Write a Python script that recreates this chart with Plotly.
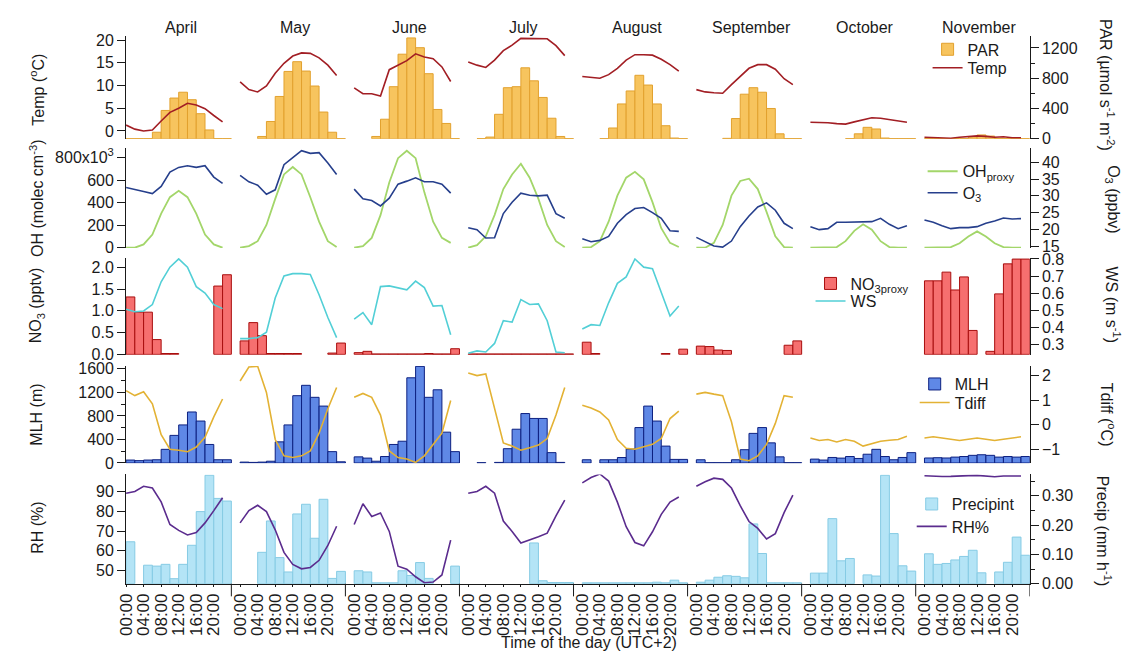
import plotly.graph_objects as go

# ---------------- data ----------------
MONTHS = ["April", "May", "June", "July", "August", "September", "October", "November"]
HOURS = [0, 2, 4, 6, 8, 10, 12, 14, 16, 18, 20, 22]
TICK_HOURS = [0, 4, 8, 12, 16, 20]
TICK_LABELS = ["00:00", "04:00", "08:00", "12:00", "16:00", "20:00"]

# Temperature (deg C), one list per month
temp = [
    [1.3, 0.4, 0.0, 0.2, 2.2, 4.1, 5.0, 6.1, 5.7, 4.9, 3.4, 2.0],
    [10.8, 9.1, 8.6, 9.9, 12.7, 14.9, 16.5, 17.2, 17.1, 16.1, 14.5, 12.2],
    [9.5, 8.2, 8.2, 7.7, 13.5, 14.5, 15.5, 17.0, 16.3, 15.9, 14.1, 10.9],
    [15.2, 14.5, 14.0, 15.6, 17.7, 18.9, 20.4, 20.4, 20.3, 20.3, 18.8, 16.6],
    [12.0, 11.8, 11.6, 12.4, 13.8, 15.6, 16.8, 16.8, 16.7, 15.8, 14.6, 13.2],
    [9.1, 8.6, 8.4, 8.3, 10.2, 12.0, 13.8, 14.6, 14.6, 13.6, 11.5, 10.2],
    [1.9, 1.9, 1.8, 1.6, 1.5, 2.0, 2.5, 2.9, 2.8, 2.5, 2.2, 1.9],
    [-1.4, -1.5, -1.5, -1.6, -1.4, -1.2, -1.1, -1.2, -1.4, -1.3, -1.5, -1.5],
]
# PAR (umol s-1 m-2)
par = [
    [2, 2, 2, 86, 374, 538, 615, 516, 331, 116, 2, 2],
    [None, None, 30, 228, 559, 890, 1019, 895, 697, 353, 86, 2],
    [None, None, 30, 258, 688, 1118, 1333, 1204, 860, 387, 202, 2],
    [None, 2, 22, 323, 675, 688, 938, 766, 546, 271, 30, 2],
    [None, None, 2, 142, 460, 632, 839, 710, 460, 172, 9, 2],
    [None, None, None, 5, 267, 589, 675, 615, 400, 65, 2, 2],
    [None, None, None, None, 2, 65, 151, 129, 9, 2, 2, 2],
    [2, 2, 2, 2, 2, 25, 50, 35, 5, 2, 2, 2],
]
# OH proxy (x10^3 molec cm-3)
oh = [
    [0, 0, 29, 116, 303, 448, 505, 448, 303, 116, 29, 0],
    [0, 14, 58, 202, 433, 650, 716, 650, 448, 231, 58, 6],
    [0, 14, 87, 289, 578, 794, 860, 794, 491, 231, 87, 43],
    [0, 23, 101, 289, 520, 650, 745, 621, 433, 202, 58, 6],
    [0, 6, 58, 231, 462, 621, 673, 606, 404, 173, 43, 6],
    [0, 0, 43, 202, 462, 592, 612, 520, 318, 101, 6, 0],
    [0, 0, 0, 6, 58, 150, 208, 159, 58, 6, 0, 0],
    [0, 0, 0, 5, 40, 100, 145, 100, 40, 5, 0, 0],
]
# O3 (ppbv)
o3 = [
    [32.5, 31.8, 31.3, 30.7, 32.8, 37.1, 38.5, 39.0, 38.5, 39.0, 35.6, 33.7],
    [36.1, 34.2, 33.2, 30.5, 31.8, 39.3, 41.4, 43.5, 42.7, 42.9, 39.8, 36.4],
    [32.0, 29.1, 28.6, 27.0, 29.3, 33.5, 34.4, 35.4, 34.2, 34.2, 33.5, 30.8],
    [20.5, 19.9, 17.4, 17.5, 24.7, 28.1, 30.8, 30.2, 30.0, 30.2, 24.7, 23.3],
    [17.2, 16.3, 16.7, 17.9, 21.8, 24.4, 26.2, 26.5, 25.0, 23.3, 19.6, 19.4],
    [17.6, 16.3, 15.0, 14.7, 16.5, 20.8, 24.0, 26.7, 27.9, 25.7, 21.8, 20.2],
    [20.8, 19.9, 20.2, 22.1, 22.1, 22.1, 22.1, 22.3, 23.3, 21.5, 20.2, 21.1],
    [22.8, 22.1, 21.1, 20.2, 20.5, 20.5, 20.8, 21.8, 22.5, 23.4, 23.1, 23.2],
]
# NO3 proxy (pptv)
no3 = [
    [1.32, 0.97, 0.97, 0.34, 0.02, 0.02, None, None, None, None, 1.57, 1.83],
    [0.31, 0.73, 0.43, 0.02, 0.02, 0.02, 0.02, None, None, None, 0.03, 0.26],
    [0.04, 0.07, 0.01, 0.01, 0.01, 0.01, 0.01, 0.01, 0.02, 0.01, 0.01, 0.13],
    [0.01, 0.01, 0.01, 0.01, 0.01, 0.01, 0.01, 0.01, 0.01, 0.01, 0.01, 0.01],
    [0.28, 0.02, None, None, None, None, None, None, None, 0.02, None, 0.12],
    [0.19, 0.18, 0.10, 0.09, None, None, None, None, None, None, 0.21, 0.31],
    [None, None, None, None, None, None, None, None, None, None, None, None],
    [1.69, 1.69, 1.89, 1.48, 1.78, 0.55, None, 0.07, 1.39, 2.08, 2.19, 2.19],
]
# Wind speed (m s-1)
ws = [
    [0.505, 0.491, 0.495, 0.533, 0.666, 0.752, 0.800, 0.752, 0.638, 0.600, 0.533, 0.509],
    [0.333, 0.333, 0.339, 0.371, 0.571, 0.701, 0.714, 0.714, 0.709, 0.590, 0.457, 0.339],
    [0.447, 0.486, 0.415, 0.638, 0.642, 0.632, 0.619, 0.670, 0.632, 0.524, 0.527, 0.356],
    [0.247, 0.261, 0.255, 0.305, 0.438, 0.430, 0.562, 0.533, 0.537, 0.438, 0.255, 0.250],
    [0.390, 0.415, 0.410, 0.543, 0.657, 0.695, 0.800, 0.752, 0.743, 0.609, 0.466, 0.524],
    None,
    None,
    None,
]
# Mixing layer height (m)
mlh = [
    [50, 40, 50, 55, 232, 469, 647, 867, 713, 315, 55, 55],
    [15, 10, 15, 30, 359, 647, 1144, 1320, 1116, 967, 193, 20],
    [104, 83, 30, 110, 315, 370, 1448, 1642, 1116, 1244, 524, 193],
    [None, 5, None, 10, 243, 574, 840, 757, 757, 176, 10, None],
    [55, None, 55, 55, 93, 237, 602, 967, 713, 287, 61, 61],
    [55, 5, 5, 5, 55, 226, 503, 602, 342, 104, 5, 5],
    [66, 50, 94, 83, 110, 77, 149, 232, 110, 55, 94, 176],
    [85, 90, 85, 100, 110, 130, 140, 130, 100, 110, 100, 110],
]
# Temperature difference (deg C)
tdiff = [
    [1.39, 1.19, 1.35, 0.85, -0.41, -1.01, -1.05, -1.11, -0.92, -0.52, 0.32, 1.05],
    [1.79, 2.36, 2.39, 1.32, -0.61, -1.28, -1.35, -1.28, -1.08, -0.35, 0.65, 1.52],
    [1.12, 1.28, 1.12, 0.39, -1.08, -1.35, -1.41, -1.55, -1.28, -0.81, -0.35, 0.99],
    [2.12, 2.01, 2.08, 0.65, -0.75, -0.88, -1.05, -0.95, -0.84, -0.57, 0.39, 1.52],
    [0.79, 0.68, 0.52, 0.19, -0.61, -0.97, -1.01, -0.92, -0.81, -0.57, 0.25, 0.55],
    [1.25, 1.32, 1.25, 1.19, 0.12, -1.41, -1.48, -1.28, -0.81, 0.05, 1.19, 1.12],
    [-0.55, -0.65, -0.61, -0.71, -0.61, -0.68, -0.88, -0.79, -0.68, -0.64, -0.61, -0.48],
    [-0.55, -0.50, -0.55, -0.60, -0.65, -0.60, -0.55, -0.60, -0.65, -0.60, -0.55, -0.50],
]
# Relative humidity (%)
rh = [
    [89.1, 90.0, 92.6, 91.7, 84.7, 73.3, 70.3, 68.0, 69.2, 74.1, 80.3, 86.8],
    [74.1, 80.3, 83.0, 79.8, 70.6, 59.2, 53.1, 50.9, 51.6, 55.2, 62.7, 72.4],
    [73.3, 83.8, 77.3, 79.1, 69.8, 52.2, 50.7, 46.9, 43.9, 44.2, 47.8, 65.4],
    [89.1, 90.0, 92.6, 89.1, 75.0, 69.8, 63.9, 65.4, 67.1, 68.9, 77.7, 85.6],
    [94.3, 97.0, 98.8, 95.2, 84.6, 72.2, 64.2, 62.5, 69.6, 78.4, 84.6, 87.2],
    [92.6, 94.9, 96.7, 96.1, 91.7, 82.8, 74.8, 71.3, 66.0, 68.7, 79.3, 88.1],
    None,
    [97.9, 97.6, 97.5, 97.6, 97.9, 98.0, 98.1, 97.7, 97.4, 97.8, 97.9, 97.8],
]
# Precipitation intensity (mm h-1)
precip = [
    [0.143, None, 0.063, 0.060, 0.066, 0.017, 0.066, 0.131, 0.246, 0.370, 0.291, 0.282],
    [None, None, 0.107, 0.214, 0.089, 0.040, 0.238, 0.271, 0.155, 0.288, 0.018, 0.042],
    [0.044, 0.040, 0.003, 0.003, 0.003, 0.044, 0.028, 0.072, 0.018, None, None, 0.060],
    [None, None, None, None, None, None, None, 0.139, 0.010, 0.004, 0.004, 0.004],
    [0.003, 0.003, 0.003, 0.003, 0.003, 0.003, 0.003, 0.003, 0.005, 0.003, 0.012, 0.003],
    [0.005, 0.012, 0.022, 0.027, 0.025, 0.020, 0.204, 0.103, 0.003, 0.003, 0.003, 0.003],
    [0.036, 0.036, 0.222, 0.078, 0.086, None, 0.030, 0.026, 0.370, 0.171, 0.061, 0.043],
    [0.102, 0.066, 0.069, 0.081, 0.093, 0.114, 0.037, None, 0.040, 0.073, 0.159, 0.097],
]

# ---------------- layout geometry ----------------
W, H = 1124, 660
PLOT_L, PLOT_R = 118, 1029
MONTH_SPAN = 24
MONTH_PERIOD = 26
X_MAX = 7 * MONTH_PERIOD + MONTH_SPAN
ROWS = [(30, 135), (145, 247), (257, 356.5), (368, 467.5), (479, 591)]
FONT = "Liberation Sans, Arial, Helvetica, sans-serif"
INK = "#1a1a1a"


def fx(p):
    return p / W


def fy(p):
    return 1 - p / H


def dom(row):
    top, bot = ROWS[row]
    return [fy(bot), fy(top)]


def bar_xy(data):
    xs, ys = [], []
    for m, month in enumerate(data):
        for h, v in zip(HOURS, month):
            xs.append(m * MONTH_PERIOD + h + 1)
            ys.append(v)
    return xs, ys


def line_xy(data):
    xs, ys = [], []
    for m, month in enumerate(data):
        if month is None:
            continue
        for h, v in zip(HOURS, month):
            xs.append(m * MONTH_PERIOD + h)
            ys.append(v)
        xs.append(None)
        ys.append(None)
    return xs, ys


fig = go.Figure()


def add_bar(data, name, fill, edge, xa, ya, leg):
    x, y = bar_xy(data)
    fig.add_trace(go.Bar(x=x, y=y, width=2, name=name, xaxis=xa, yaxis=ya, legend=leg,
                         showlegend=True,
                         marker=dict(color=fill, line=dict(color=edge, width=1))))


def add_line(data, name, color, xa, ya, leg, width=1.6):
    x, y = line_xy(data)
    fig.add_trace(go.Scatter(x=x, y=y, mode="lines", name=name, xaxis=xa, yaxis=ya, legend=leg,
                             showlegend=True,
                             line=dict(color=color, width=width), connectgaps=False))


# row 1
add_bar(par, "PAR", "#F7C45E", "#E2A12E", "x", "y", "legend")
add_line(temp, "Temp", "#A21E24", "x", "y2", "legend2")
# row 2
add_line(oh, "OH<sub>proxy</sub>", "#A3D66A", "x2", "y3", "legend3", 1.8)
add_line(o3, "O<sub>3</sub>", "#263F8C", "x2", "y4", "legend4")
# row 3
add_bar(no3, "NO<sub>3proxy</sub>", "#F66F6F", "#A80E0E", "x3", "y5", "legend5")
add_line(ws, "WS", "#52CFD6", "x3", "y6", "legend6")
# row 4
add_bar(mlh, "MLH", "#5F88E6", "#0D2080", "x4", "y7", "legend7")
add_line(tdiff, "Tdiff", "#E3B234", "x4", "y8", "legend8")
# row 5
add_bar(precip, "Precipint", "#B4E4F6", "#86CBE4", "x5", "y9", "legend9")
add_line(rh, "RH%", "#5B2C8E", "x5", "y10", "legend10")

TICKFONT = dict(family=FONT, size=16, color=INK)


def yaxis(row, side, rng, tickvals, ticktext=None, fmt=None, minor=None, overlaying=None, anchor="x"):
    ax = dict(domain=dom(row), side=side, range=rng, anchor=anchor,
              showline=True, linecolor=INK, linewidth=1,
              ticks="outside", ticklen=8, tickwidth=1, tickcolor=INK,
              tickvals=tickvals, tickfont=TICKFONT, showgrid=False, zeroline=False)
    if ticktext is not None:
        ax["ticktext"] = ticktext
    if fmt is not None:
        ax["tickformat"] = fmt
    if minor is not None:
        ax["minor"] = dict(tickvals=minor, ticks="outside", ticklen=4, tickcolor=INK, showgrid=False)
    if overlaying is not None:
        ax["overlaying"] = overlaying
    return ax


xcommon = dict(domain=[fx(PLOT_L), fx(PLOT_R)], range=[0, X_MAX], showgrid=False, zeroline=False)

tickvals_x = [m * MONTH_PERIOD + h for m in range(len(MONTHS)) for h in TICK_HOURS]
ticktext_x = [lab for m in range(len(MONTHS)) for lab in TICK_LABELS]

fig.update_layout(
    width=W, height=H,
    margin=dict(l=0, r=0, t=0, b=0),
    paper_bgcolor="white", plot_bgcolor="white",
    font=dict(family=FONT, size=16, color=INK),
    barmode="overlay",
    showlegend=True,
    xaxis=dict(**xcommon, anchor="y", visible=False),
    xaxis2=dict(**xcommon, anchor="y3", visible=False),
    xaxis3=dict(**xcommon, anchor="y5", visible=False),
    xaxis4=dict(**xcommon, anchor="y7", visible=False),
    xaxis5=dict(**xcommon, anchor="y9", showline=True, linecolor=INK, linewidth=1,
                ticks="outside", ticklen=2, tickcolor=INK, tickvals=tickvals_x, ticktext=ticktext_x,
                tickangle=-90, tickfont=dict(family=FONT, size=17, color=INK)),
    yaxis=yaxis(0, "right", [0, 1355], [0, 400, 800, 1200], minor=[200, 600, 1000]),
    yaxis2=yaxis(0, "left", [-1.72, 20.86], [0, 5, 10, 15, 20], overlaying="y"),
    yaxis3=yaxis(1, "left", [-2.6, 880], [0, 200, 400, 600, 800],
                 ticktext=["0", "200", "400", "600", "800x10<sup>3</sup>"], anchor="x2"),
    yaxis4=yaxis(1, "right", [14.42, 44.15], [15, 20, 25, 30, 35, 40], overlaying="y3", anchor="x2"),
    yaxis5=yaxis(2, "left", [-0.011, 2.22], [0, 0.5, 1.0, 1.5, 2.0], fmt=".1f", anchor="x3"),
    yaxis6=yaxis(2, "right", [0.238, 0.807], [0.3, 0.4, 0.5, 0.6, 0.7, 0.8], fmt=".1f",
                 overlaying="y5", anchor="x3"),
    yaxis7=yaxis(3, "left", [-3, 1647], [0, 400, 800, 1200, 1600], minor=[200, 600, 1000, 1400], anchor="x4"),
    yaxis8=yaxis(3, "right", [-1.58, 2.4], [-1, 0, 1, 2], overlaying="y7", anchor="x4"),
    yaxis9=yaxis(4, "right", [0, 0.373], [0, 0.1, 0.2, 0.3], fmt=".2f",
                 minor=[0.05, 0.15, 0.25, 0.35], anchor="x5"),
    yaxis10=yaxis(4, "left", [43.4, 98.6], [50, 60, 70, 80, 90], overlaying="y9", anchor="x5"),
)

# one legend per entry so every entry sits where the reference shows it
legend_style = dict(font=dict(family=FONT, size=16, color=INK), bgcolor="rgba(0,0,0,0)",
                    xanchor="left", yanchor="top", borderwidth=0, visible=True)
LEGEND_POS = [  # (text start x, item centre y) in pixels
    (968, 43), (968, 62),
    (963, 168), (963, 190),
    (850, 283), (850, 301),
    (955, 386), (955, 405),
    (952, 509), (952, 532),
]
legend_layout = {}
for i, (tx, cy) in enumerate(LEGEND_POS):
    key = "legend" if i == 0 else "legend%d" % (i + 1)
    legend_layout[key] = dict(x=fx(tx - 42), y=fy(cy - 17), **legend_style)
fig.update_layout(**legend_layout)

annotations = []
for m, name in enumerate(MONTHS):
    annotations.append(dict(text=name, x=m * MONTH_PERIOD + 12.5, xref="x", y=fy(21), yref="paper",
                            xanchor="center", yanchor="middle",
                            showarrow=False, font=dict(family=FONT, size=16, color=INK)))

left_titles = [
    ("Temp (<sup>o</sup>C)", 85),
    ("OH (molec cm<sup>-3</sup>)", 196),
    ("NO<sub>3</sub> (pptv)", 306),
    ("MLH (m)", 418),
    ("RH (%)", 534),
]
for text, yc in left_titles:
    annotations.append(dict(text=text, x=fx(28), y=fy(yc), xref="paper", yref="paper",
                            xanchor="center", yanchor="middle",
                            textangle=-90, showarrow=False, font=dict(family=FONT, size=16, color=INK)))

right_titles = [
    ("PAR (µmol s<sup>-1</sup> m<sup>-2</sup>)", 1107, 80),
    ("O<sub>3</sub> (ppbv)", 1113, 197),
    ("WS (m s<sup>-1</sup>)", 1113, 305),
    ("Tdiff (<sup>o</sup>C)", 1108, 418),
    ("Precip (mm h<sup>-1</sup>)", 1104, 537),
]
for text, xc, yc in right_titles:
    annotations.append(dict(text=text, x=fx(xc), y=fy(yc), xref="paper", yref="paper",
                            xanchor="center", yanchor="middle",
                            textangle=90, showarrow=False, font=dict(family=FONT, size=16, color=INK)))

annotations.append(dict(text="Time of the day (UTC+2)", x=fx(585), y=fy(651), xref="paper", yref="paper",
                        xanchor="center", yanchor="middle",
                        showarrow=False, font=dict(family=FONT, size=16, color=INK)))
fig.update_layout(annotations=annotations)

# longer ticks marking the end of each month on the time axis
shapes = []
for m in range(len(MONTHS)):
    xb = m * MONTH_PERIOD + MONTH_SPAN
    shapes.append(dict(type="line", xref="x5", yref="paper", x0=xb, x1=xb,
                       y0=fy(ROWS[4][1]), y1=fy(ROWS[4][1] + 13), line=dict(color=INK, width=1)))
fig.update_layout(shapes=shapes)

fig.write_html(
    "out.html",
    config={"displayModeBar": False},
    post_script=("document.documentElement.style.margin='0';"
                 "document.body.style.margin='0';"
                 "document.documentElement.style.overflow='hidden';"
                 "document.body.style.overflow='hidden';"),
)
